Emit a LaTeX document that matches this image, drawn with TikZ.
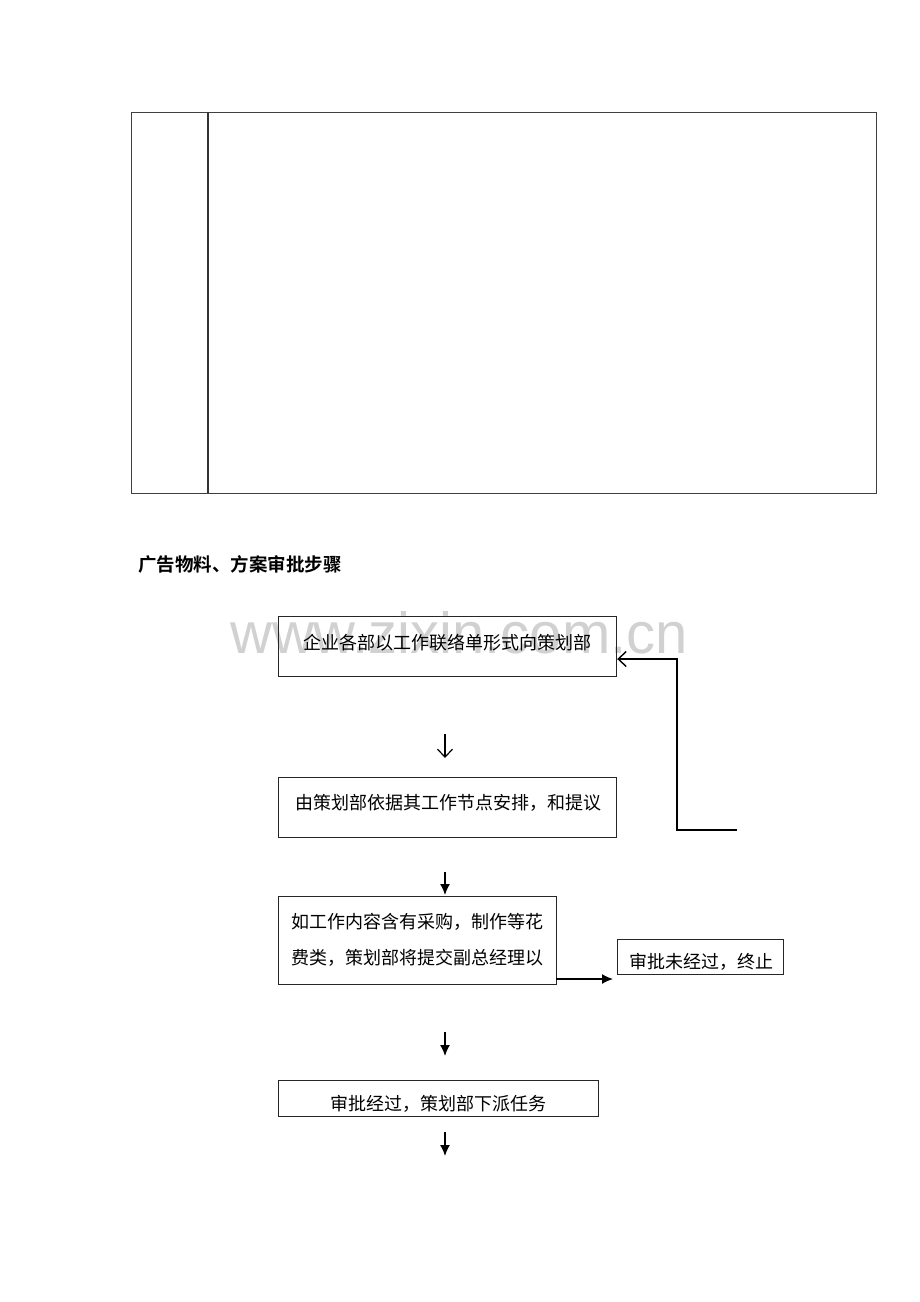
\documentclass[tikz,border=0pt]{standalone}
\usepackage{fontspec}
\newfontfamily\cjk{Noto Sans CJK SC}
\newfontfamily\cjkb{Noto Sans CJK SC Bold}
\usetikzlibrary{arrows.meta}
\begin{document}
\begin{tikzpicture}[x=1pt,y=-1pt,
  box/.style={draw=black!85,line width=1.2pt,anchor=north west,inner sep=0pt},
  txt/.style={font=\cjk\fontsize{18}{36}\selectfont,inner sep=0pt,align=center},
  farrow/.style={line width=1.4pt,-{Latex[length=11pt,width=10pt]}},
  oarrow/.style={line width=1.2pt,-{Straight Barb[length=8pt,width=15pt]}}]
\path[use as bounding box] (0,0) rectangle (920,1302);
\fill[white] (0,0) rectangle (920,1302);
% watermark
\node[text=black!18,font=\fontspec{Liberation Sans}\fontsize{58}{60}\selectfont,inner sep=0pt] (wm) at (459,633) {www.zixin.com.cn};
% table
\node[box,minimum width=745pt,minimum height=381pt,draw=black!75] (tab) at (131,112) {};
\draw[line width=1.2pt,draw=black!80] (208,112) coordinate (c1) -- (208,493) coordinate (c2);
% heading
\node[font=\cjkb\fontsize{18.5}{20}\selectfont,anchor=west,inner sep=0pt] (head) at (138,564) {广告物料、方案审批步骤};
% boxes
\node[box,minimum width=338pt,minimum height=60pt] (b1) at (278,616) {};
\node[txt] (t1) at (447,643) {企业各部以工作联络单形式向策划部};
\node[box,minimum width=338pt,minimum height=60pt] (b2) at (278,777) {};
\node[txt] (t2) at (448,803) {由策划部依据其工作节点安排，和提议};
\node[box,minimum width=278pt,minimum height=88pt] (b3) at (278,896) {};
\node[txt] (t3) at (417,940) {如工作内容含有采购，制作等花\\费类，策划部将提交副总经理以};
\node[box,minimum width=166pt,minimum height=35pt] (b4) at (617,939) {};
\node[txt] (t4) at (701,962) {审批未经过，终止};
\node[box,minimum width=320pt,minimum height=36pt] (b5) at (278,1080) {};
\node[txt] (t5) at (438,1104) {审批经过，策划部下派任务};
% arrows
\coordinate (a1s) at (445,734); \coordinate (a1e) at (445,758);
\draw[oarrow] (a1s) -- (a1e);
\coordinate (a2s) at (445,872); \coordinate (a2e) at (445,895);
\draw[farrow] (a2s) -- (a2e);
\coordinate (a3s) at (445,1032); \coordinate (a3e) at (445,1056);
\draw[farrow] (a3s) -- (a3e);
\coordinate (a4s) at (445,1132); \coordinate (a4e) at (445,1156);
\draw[farrow] (a4s) -- (a4e);
\coordinate (a5s) at (556,979); \coordinate (a5e) at (613,979);
\draw[farrow] (a5s) -- (a5e);
% feedback line
\coordinate (fb) at (737,830);
\draw[oarrow,line width=1.4pt] (fb) -- (677,830) -- (677,659) -- (b1.east |- 0,659);
\end{tikzpicture}
\end{document}
